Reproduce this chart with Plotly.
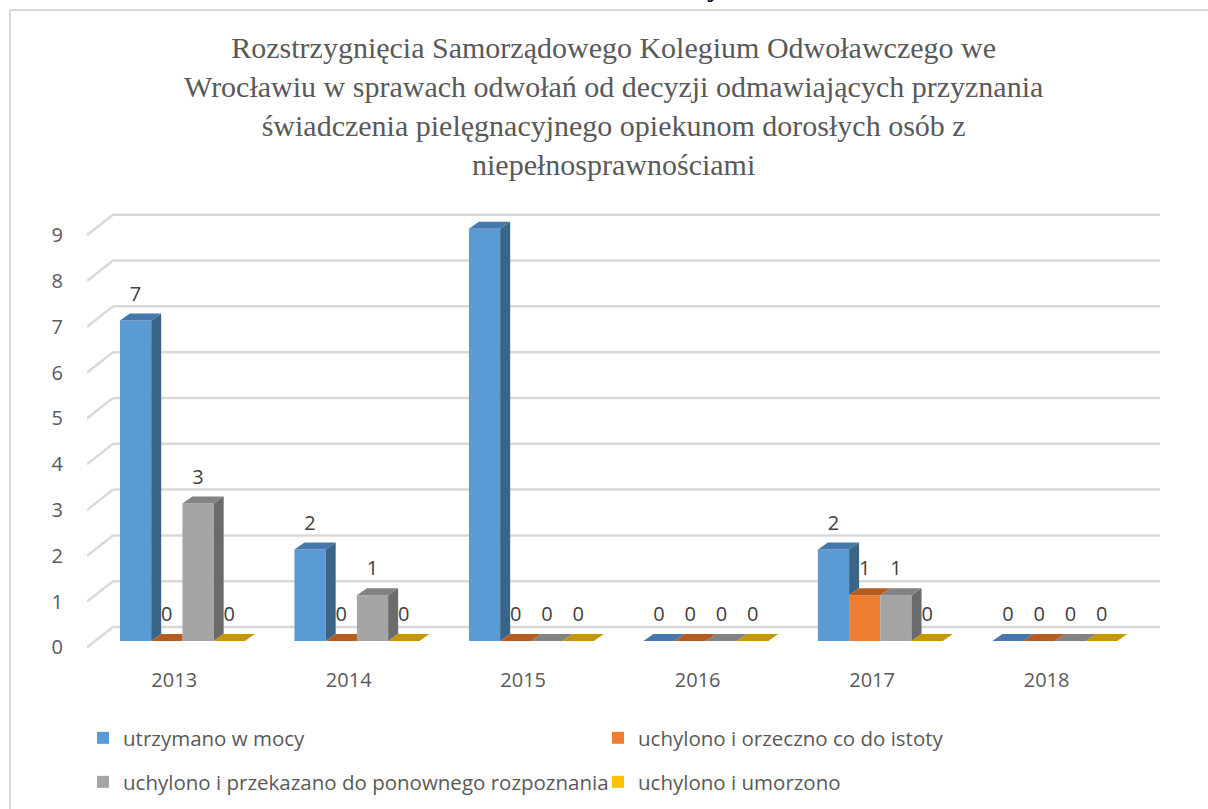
import plotly.graph_objects as go

# ---------------- data ----------------
years = ["2013", "2014", "2015", "2016", "2017", "2018"]
series_names = [
    "utrzymano w mocy",
    "uchylono i orzeczno co do istoty",
    "uchylono i przekazano do ponownego rozpoznania",
    "uchylono i umorzono",
]
utrzymano = [7, 2, 9, 0, 2, 0]
orzeczono = [0, 0, 0, 0, 1, 0]
przekazano = [3, 1, 0, 0, 1, 0]
umorzono = [0, 0, 0, 0, 0, 0]
y_ticks = [0, 1, 2, 3, 4, 5, 6, 7, 8, 9]

title_text = ("Rozstrzygnięcia Samorządowego Kolegium Odwoławczego we<br>"
              "Wrocławiu w sprawach odwołań od decyzji odmawiających przyznania<br>"
              "świadczenia pielęgnacyjnego opiekunom dorosłych osób z<br>"
              "niepełnosprawnościami")

values = [utrzymano, orzeczono, przekazano, umorzono]

# ---------------- style ----------------
front_col = ["#5B9BD5", "#ED7D31", "#A5A5A5", "#FFC000"]
top_col = ["#4677AA", "#B65C22", "#828282", "#C49800"]
side_col = ["#3B6489", "#9E4F1C", "#6B6B6B", "#A88300"]

W = 0.179        # bar width (x units)
OFF0 = -0.311    # offset of first bar from category centre
DX = 0.0573      # depth shift x (bar)
DY = 0.153       # depth shift y (bar)
LABEL_DY = 0.54  # data label above bar top
FRONT_DY = -0.14 # front plane relative to bar base
BACK_DX = 0.149  # back wall shift x
BACK_DY = 0.306  # back wall shift y
X_MIN, X_MAX = -0.5, 5.65
Y_MIN, Y_MAX = -0.196, 9.41

grid_col = "#D9D9D9"
text_col = "#595959"
label_col = "#404040"
FONT = "Open Sans"

fig = go.Figure()

# front faces as bars
n = len(years)
for k, (name, vals) in enumerate(zip(series_names, values)):
    fig.add_trace(go.Bar(
        x=list(range(n)), y=vals, width=W, offset=OFF0 + k * W,
        marker=dict(color=front_col[k], line=dict(width=0)),
        name=name, legend="legend" if k < 2 else "legend2",
        hoverinfo="x+y+name",
    ))

# side and top faces (3-D effect), painter's order left to right
for i in range(n):
    for k in range(4):
        v = values[k][i]
        x0 = i + OFF0 + k * W
        x1 = x0 + W
        has_next = k < 3
        v_next = values[k + 1][i] if has_next else 0
        lb = min(v_next, v) if has_next else 0
        if v > lb:
            fig.add_trace(go.Scatter(
                x=[x1, x1 + DX, x1 + DX, x1, x1],
                y=[lb, lb + DY, v + DY, v, lb],
                mode="lines", fill="toself", fillcolor=side_col[k],
                line=dict(width=0, color=side_col[k]),
                showlegend=False, hoverinfo="skip"))
        if has_next and v_next > v:
            tx = [x0, x1, x1, x0 + DX, x0]
            ty = [v, v, v + DY, v + DY, v]
        else:
            tx = [x0, x1, x1 + DX, x0 + DX, x0]
            ty = [v, v, v + DY, v + DY, v]
        fig.add_trace(go.Scatter(
            x=tx, y=ty, mode="lines", fill="toself", fillcolor=top_col[k],
            line=dict(width=0, color=top_col[k]),
            showlegend=False, hoverinfo="skip"))

# data labels
lx, ly, lt = [], [], []
for k in range(4):
    for i in range(n):
        v = values[k][i]
        lx.append(i + OFF0 + k * W + W / 2)
        ly.append(v + LABEL_DY)
        lt.append(str(v))
fig.add_trace(go.Scatter(
    x=lx, y=ly, text=lt, mode="text", textposition="middle center",
    textfont=dict(family=FONT, size=20, color=label_col),
    showlegend=False, hoverinfo="skip", cliponaxis=False))

# gridlines (floor diagonal + back wall)
shapes = []
for v in y_ticks:
    shapes.append(dict(type="line", xref="x", yref="y", layer="below",
                       x0=X_MIN, y0=v + FRONT_DY, x1=X_MIN + BACK_DX, y1=v + BACK_DY,
                       line=dict(color=grid_col, width=2.5)))
    shapes.append(dict(type="line", xref="x", yref="y", layer="below",
                       x0=X_MIN + BACK_DX, y0=v + BACK_DY, x1=X_MAX, y1=v + BACK_DY,
                       line=dict(color=grid_col, width=2.5)))
# chart frame
shapes.append(dict(type="line", xref="paper", yref="paper", layer="below",
                   x0=-0.0718, y0=1.4545, x1=-0.0718, y1=-0.45,
                   line=dict(color=grid_col, width=2)))
shapes.append(dict(type="line", xref="paper", yref="paper", layer="below",
                   x0=-0.0718, y0=1.4545, x1=1.1, y1=1.4545,
                   line=dict(color=grid_col, width=2)))

fig.update_layout(
    width=1208, height=809,
    margin=dict(l=87, r=48, t=210, b=159, autoexpand=False),
    paper_bgcolor="white", plot_bgcolor="white",
    barmode="overlay",
    shapes=shapes,
    title=dict(text=title_text, x=0.508, xanchor="center", xref="container",
               y=1 - 58 / 809, yanchor="top", yref="container",
               font=dict(family="Liberation Serif", size=30, color=text_col)),
    xaxis=dict(range=[X_MIN, X_MAX], tickvals=list(range(n)), ticktext=years,
               showgrid=False, zeroline=False, showline=False, ticks="",
               ticklabelstandoff=16,
               tickfont=dict(family=FONT, size=20, color=text_col)),
    yaxis=dict(range=[Y_MIN, Y_MAX], tickvals=[v + FRONT_DY for v in y_ticks],
               ticktext=[str(v) for v in y_ticks],
               showgrid=False, zeroline=False, showline=False, ticks="",
               ticklabelstandoff=23,
               tickfont=dict(family=FONT, size=20, color=text_col)),
    legend=dict(orientation="h", x=-0.0037, xanchor="left", y=-0.2, yanchor="middle",
                entrywidth=470, entrywidthmode="pixels",
                font=dict(family=FONT, size=20.5, color=text_col),
                bgcolor="rgba(0,0,0,0)"),
    legend2=dict(orientation="h", x=-0.0037, xanchor="left", y=-0.3, yanchor="middle",
                 entrywidth=470, entrywidthmode="pixels",
                 font=dict(family=FONT, size=20.5, color=text_col),
                 bgcolor="rgba(0,0,0,0)"),
    annotations=[dict(text="y", xref="paper", yref="paper", x=0.585, y=1.468,
                      xanchor="center", yanchor="bottom", showarrow=False,
                      font=dict(family="Liberation Serif", size=30, color="black"))],
)

fig.write_html("out.html", config={"displayModeBar": False},
               post_script="document.body.style.margin='0';")
